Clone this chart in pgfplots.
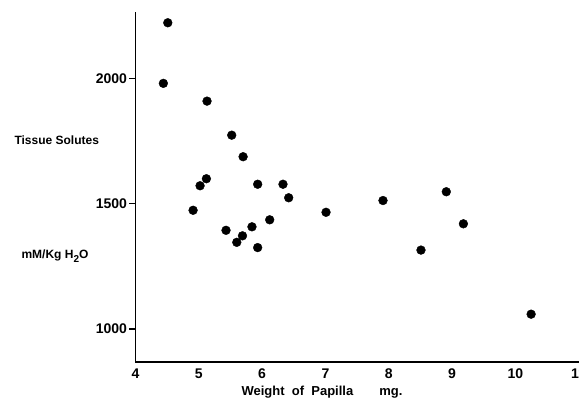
\documentclass[border=0pt]{standalone}
\usepackage{pgfplots}
\pgfplotsset{compat=1.18}
\usepackage{fontspec}
\setmainfont{Liberation Sans}
\begin{document}
\begin{tikzpicture}
\begin{axis}[
  at={(0,0)}, anchor=south west,
  scale only axis,
  width=443.1pt, height=350pt,
  xmin=4, xmax=11, ymin=868, ymax=2266,
  axis lines=left,
  axis line style={line width=1.6pt, -},
  xtick={4,5,6,7,8,9,10,11},
  xticklabels={4,5,6,7,8,9,10,11},
  ytick={1000,1500,2000},
  yticklabels={1000,1500,2000},
  x tick style={draw=none},
  y tick style={line width=1.2pt, black},
  tick align=outside,
  major tick length=6pt,
  tick label style={font=\fontsize{14}{16}\selectfont\bfseries},
  xticklabel style={yshift=3pt},
  yticklabel style={xshift=1pt},
  /pgf/number format/assume math mode=true,
  clip=false,
]
\addplot[only marks, mark=*, mark size=4.4pt, black] coordinates {
  (4.51,2223) (4.44,1981) (5.13,1910) (5.52,1774) (5.70,1688)
  (5.12,1600) (5.02,1572) (5.93,1578) (6.33,1578) (6.42,1524)
  (7.91,1513) (4.91,1474) (7.01,1466) (6.12,1436) (5.84,1408)
  (5.43,1394) (5.69,1372) (5.60,1346) (5.93,1325) (8.91,1548)
  (9.18,1420) (8.51,1315) (10.25,1059)
};
\end{axis}
\node[anchor=west, font=\fontsize{12}{14}\selectfont\bfseries] at (-124.5pt,222pt) {Tissue Solutes};
\node[anchor=west, font=\fontsize{12}{14}\selectfont\bfseries] at (-117.5pt,106pt) {mM/Kg H\raisebox{-4pt}{\fontsize{10}{12}\selectfont 2}O};
\node[font=\fontsize{13}{15}\selectfont\bfseries] at (186.5pt,-30pt) {Weight\ \ of\ \ Papilla\qquad mg.};
\pgfresetboundingbox
\path (-135.5pt,-45pt) rectangle (443.5pt,362pt);
\end{tikzpicture}
\end{document}
